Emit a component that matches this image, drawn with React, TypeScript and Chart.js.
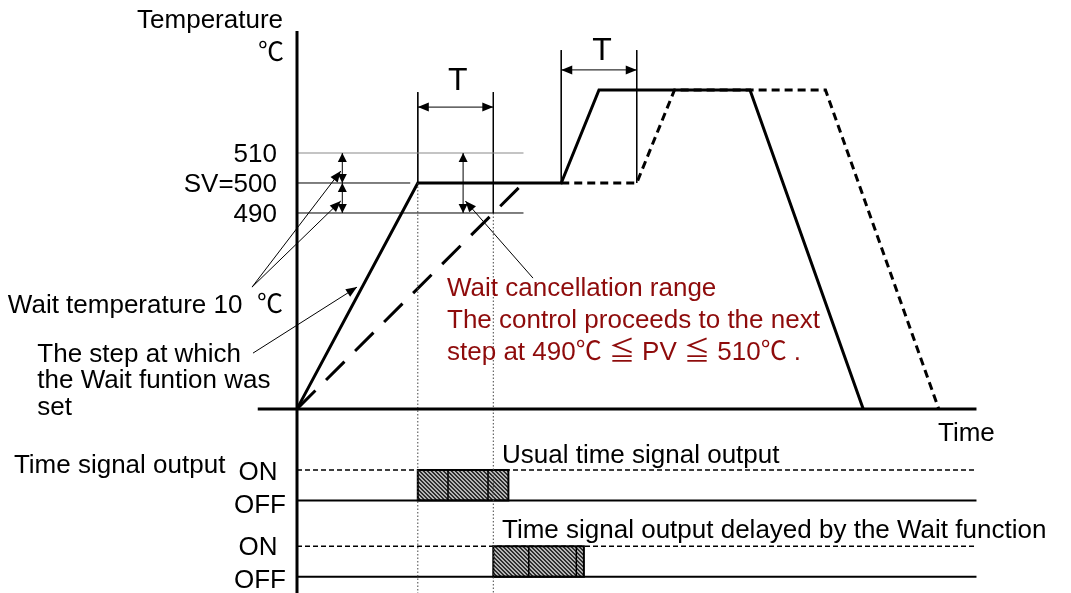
import React, { useEffect, useRef } from "react";
import { Chart, registerables } from "chart.js";

Chart.register(...registerables);

// ---- data (time in minutes, T = 10 min; temperature in °C) ----
const BASE_TEMP = 424.7;
const SV = 500;
const WAIT_HIGH = 510;
const WAIT_LOW = 490;

const PROFILE_TIME = [0, 16, 35, 40, 60, 75];
const PROFILE_TEMP = [BASE_TEMP, 500, 500, 531, 531, BASE_TEMP];

const SLOW_RAMP_TIME = [0, 30];
const SLOW_RAMP_TEMP = [BASE_TEMP, 500];

const DELAYED_TIME = [35, 45, 50, 70, 85];
const DELAYED_TEMP = [500, 500, 531, 531, BASE_TEMP];

const TIME_AXIS = [-5.2, 90];
const TEMP_AXIS_TOP = 550.7;
const SV_LINE_END = 15;
const BAND_LINE_END = 30;

const MARK_TIMES = [16, 26, 35, 45];
const MARK_TOPS = [530.3, 530.3, 544.3, 544.3];
const MARK_SOLID_BOTTOMS = [500, 490, 500, 500];
const MARK_DOTTED = [true, true, false, false];

// time-signal rows (signal axis levels)
const ROW1_ON = 1;
const ROW1_OFF = 0;
const ROW2_ON = -1.5;
const ROW2_OFF = -2.5;
const USUAL_PULSE = [16, 28];
const USUAL_DIVIDERS = [20, 25.3];
const DELAYED_PULSE = [26, 38];
const DELAYED_DIVIDERS = [30.7, 37];

const X_MIN = -39.34;
const X_MAX = 102.52;
const Y_MIN = 363.33;
const Y_MAX = 561;
const S_MIN = -3.033;
const S_MAX = 16.41;

const FONT = '"Liberation Sans", Arial, "Noto Sans CJK JP", sans-serif';
const RED = "#8e0b0b";

function pts(xs: number[], ys: number[]) {
  return xs.map((x, i) => ({ x, y: ys[i] }));
}

function ds(data: any[], opts: any = {}) {
  return {
    data,
    showLine: true,
    pointRadius: 0,
    pointHoverRadius: 0,
    borderColor: "#000",
    borderWidth: 1,
    fill: false,
    tension: 0,
    clip: false,
    yAxisID: "y",
    ...opts,
  };
}

function arrowHead(ctx: CanvasRenderingContext2D, x1: number, y1: number, x2: number, y2: number, len = 10, half = 4.5) {
  const a = Math.atan2(y2 - y1, x2 - x1);
  ctx.beginPath();
  ctx.moveTo(x2, y2);
  ctx.lineTo(x2 - len * Math.cos(a) + half * Math.sin(a), y2 - len * Math.sin(a) - half * Math.cos(a));
  ctx.lineTo(x2 - len * Math.cos(a) - half * Math.sin(a), y2 - len * Math.sin(a) + half * Math.cos(a));
  ctx.closePath();
  ctx.fill();
}

function arrow(ctx: CanvasRenderingContext2D, x1: number, y1: number, x2: number, y2: number, both: boolean, len = 10, half = 4.5) {
  ctx.beginPath();
  ctx.moveTo(x1, y1);
  ctx.lineTo(x2, y2);
  ctx.stroke();
  arrowHead(ctx, x1, y1, x2, y2, len, half);
  if (both) arrowHead(ctx, x2, y2, x1, y1, len, half);
}

export default function App() {
  const ref = useRef<HTMLCanvasElement>(null);

  useEffect(() => {
    const canvas = ref.current!;
    const pc = document.createElement("canvas");
    pc.width = 4;
    pc.height = 4;
    const pctx = pc.getContext("2d")!;
    pctx.fillStyle = "#b4b4b4";
    pctx.fillRect(0, 0, 4, 4);
    pctx.fillStyle = "#2e2e2e";
    for (let y = 0; y < 4; y++)
      for (let x = 0; x < 4; x++) if ((x - y + 8) % 4 < 2) pctx.fillRect(x, y, 1, 1);
    const hatch = canvas.getContext("2d")!.createPattern(pc, "repeat")!;

    const datasets: any[] = [];
    // axes
    datasets.push(ds(pts(TIME_AXIS, [BASE_TEMP, BASE_TEMP]), { borderWidth: 3 }));
    datasets.push(ds(pts([0, 0], [TEMP_AXIS_TOP, Y_MIN]), { borderWidth: 3 }));
    // reference lines
    datasets.push(ds(pts([0, BAND_LINE_END], [WAIT_HIGH, WAIT_HIGH]), { borderColor: "#8a8a8a", borderWidth: 1.2 }));
    datasets.push(ds(pts([0, SV_LINE_END], [SV, SV]), { borderWidth: 1 }));
    datasets.push(ds(pts([0, BAND_LINE_END], [WAIT_LOW, WAIT_LOW]), { borderWidth: 1 }));
    // marks
    MARK_TIMES.forEach((t, i) => {
      datasets.push(ds(pts([t, t], [MARK_TOPS[i], MARK_SOLID_BOTTOMS[i]]), { borderWidth: 1 }));
      if (MARK_DOTTED[i])
        datasets.push(ds(pts([t, t], [MARK_SOLID_BOTTOMS[i], Y_MIN]), { borderWidth: 1, borderColor: "#444", borderDash: [1.5, 2] }));
    });
    // signal rows
    datasets.push(ds(pts([0, TIME_AXIS[1]], [ROW1_ON, ROW1_ON]), { yAxisID: "ySig", borderWidth: 1.5, borderDash: [5, 3] }));
    datasets.push(ds(pts([0, TIME_AXIS[1]], [ROW1_OFF, ROW1_OFF]), { yAxisID: "ySig", borderWidth: 2 }));
    datasets.push(ds(pts([0, TIME_AXIS[1]], [ROW2_ON, ROW2_ON]), { yAxisID: "ySig", borderWidth: 1.5, borderDash: [5, 3] }));
    datasets.push(ds(pts([0, TIME_AXIS[1]], [ROW2_OFF, ROW2_OFF]), { yAxisID: "ySig", borderWidth: 2 }));
    // profiles
    datasets.push(ds(pts(SLOW_RAMP_TIME, SLOW_RAMP_TEMP), { borderWidth: 3, borderDash: [26, 15] }));
    datasets.push(ds(pts(DELAYED_TIME, DELAYED_TEMP), { borderWidth: 3, borderDash: [8, 5] }));
    datasets.push(ds(pts(PROFILE_TIME, PROFILE_TEMP), { borderWidth: 3 }));

    const annot = {
      id: "annot",
      beforeDatasetsDraw(chart: any) {
        const ctx = chart.ctx as CanvasRenderingContext2D;
        const xs = chart.scales.x;
        const ss = chart.scales.ySig;
        const px = (t: number) => xs.getPixelForValue(t);
        const ps = (v: number) => ss.getPixelForValue(v);
        const box = (pulse: number[], divs: number[], on: number, off: number) => {
          const x0 = px(pulse[0]);
          const x1 = px(pulse[1]);
          const y0 = ps(on);
          const y1 = ps(off);
          ctx.save();
          ctx.fillStyle = hatch;
          ctx.fillRect(x0, y0, x1 - x0, y1 - y0);
          ctx.strokeStyle = "#000";
          ctx.lineWidth = 1.5;
          divs.forEach((d) => {
            ctx.beginPath();
            ctx.moveTo(px(d), y0);
            ctx.lineTo(px(d), y1);
            ctx.stroke();
          });
          ctx.lineWidth = 2;
          ctx.strokeRect(x0, y0, x1 - x0, y1 - y0);
          ctx.restore();
        };
        box(USUAL_PULSE, USUAL_DIVIDERS, ROW1_ON, ROW1_OFF);
        box(DELAYED_PULSE, DELAYED_DIVIDERS, ROW2_ON, ROW2_OFF);
      },
      afterDatasetsDraw(chart: any) {
        const ctx = chart.ctx as CanvasRenderingContext2D;
        const xs = chart.scales.x;
        const ys = chart.scales.y;
        const ss = chart.scales.ySig;
        const px = (t: number) => xs.getPixelForValue(t);
        const py = (v: number) => ys.getPixelForValue(v);
        const ps = (v: number) => ss.getPixelForValue(v);
        ctx.save();
        ctx.strokeStyle = "#000";
        ctx.fillStyle = "#000";
        ctx.lineWidth = 1;
        // T arrows
        arrow(ctx, px(MARK_TIMES[0]), py(525.3), px(MARK_TIMES[1]), py(525.3), true, 11, 4.5);
        arrow(ctx, px(MARK_TIMES[2]), py(537.7), px(MARK_TIMES[3]), py(537.7), true, 11, 4.5);
        // wait band arrows
        arrow(ctx, px(6), py(WAIT_HIGH), px(6), py(SV), true, 9, 4.5);
        arrow(ctx, px(6), py(SV), px(6), py(WAIT_LOW), true, 9, 4.5);
        arrow(ctx, px(22), py(WAIT_HIGH), px(22), py(WAIT_LOW), true, 9, 4.5);
        // leaders
        arrow(ctx, px(-5.96), py(465.3), px(5.8), py(504), false, 11, 4.5);
        arrow(ctx, px(-5.96), py(465.3), px(5.8), py(494), false, 11, 4.5);
        arrow(ctx, px(-5.83), py(443.3), px(7.95), py(465.3), false, 11, 4.5);
        arrow(ctx, px(31.26), py(468.3), px(22.3), py(494), false, 11, 4.5);

        // texts
        const text = (s: string, t: number, yPix: number, align: CanvasTextAlign, size = 26, color = "#000") => {
          ctx.font = `${size}px ${FONT}`;
          ctx.fillStyle = color;
          ctx.textAlign = align;
          ctx.textBaseline = "alphabetic";
          ctx.fillText(s, px(t), yPix);
        };
        text("T", 21.3, py(531), "center", 32);
        text("T", 40.4, py(541), "center", 32);
        text("Temperature", -1.85, py(551.7), "right");
        text("℃", -1.72, py(540.7), "right");
        text("510", -2.65, py(WAIT_HIGH - 3), "right");
        text("SV=500", -2.65, py(SV - 3), "right");
        text("490", -2.65, py(WAIT_LOW - 3), "right");
        text("Wait temperature 10  ℃", -38.3, py(456.7), "left");
        text("The step at which", -34.4, py(440.3), "left");
        text("the Wait funtion was", -34.4, py(431.7), "left");
        text("set", -34.4, py(422.7), "left");
        text("Time", 84.9, py(414), "left");
        text("Wait cancellation range", 19.87, py(462.3), "left", 26, RED);
        text("The control proceeds to the next", 19.87, py(451.7), "left", 26, RED);
        text("step at 490℃ ≦ PV ≦ 510℃ .", 19.87, py(441), "left", 26, RED);
        text("Time signal output", -37.5, ps(0.9), "left");
        text("ON", -5.17, ps(ROW1_ON - 0.33), "center");
        text("OFF", -4.9, ps(ROW1_OFF - 0.41), "center");
        text("ON", -5.17, ps(ROW2_ON - 0.29), "center");
        text("OFF", -4.9, ps(ROW2_OFF - 0.37), "center");
        text("Usual time signal output", 27.15, ps(1.23), "left");
        text("Time signal output delayed by the Wait function", 27.15, ps(-1.23), "left");
        ctx.restore();
      },
    };

    const chart = new Chart(canvas, {
      type: "scatter",
      data: { datasets },
      options: {
        animation: false,
        responsive: false,
        events: [],
        layout: { padding: 0 },
        plugins: { legend: { display: false }, tooltip: { enabled: false } },
        scales: {
          x: { type: "linear", display: false, min: X_MIN, max: X_MAX },
          y: { type: "linear", display: false, min: Y_MIN, max: Y_MAX },
          ySig: { type: "linear", display: false, min: S_MIN, max: S_MAX },
        },
      },
      plugins: [annot],
    } as any);
    return () => chart.destroy();
  }, []);

  return (
    <div style={{ position: "absolute", left: 0, top: 0, width: 1071, height: 593, background: "#fff" }}>
      <canvas ref={ref} width={1071} height={593} style={{ display: "block" }} />
    </div>
  );
}
